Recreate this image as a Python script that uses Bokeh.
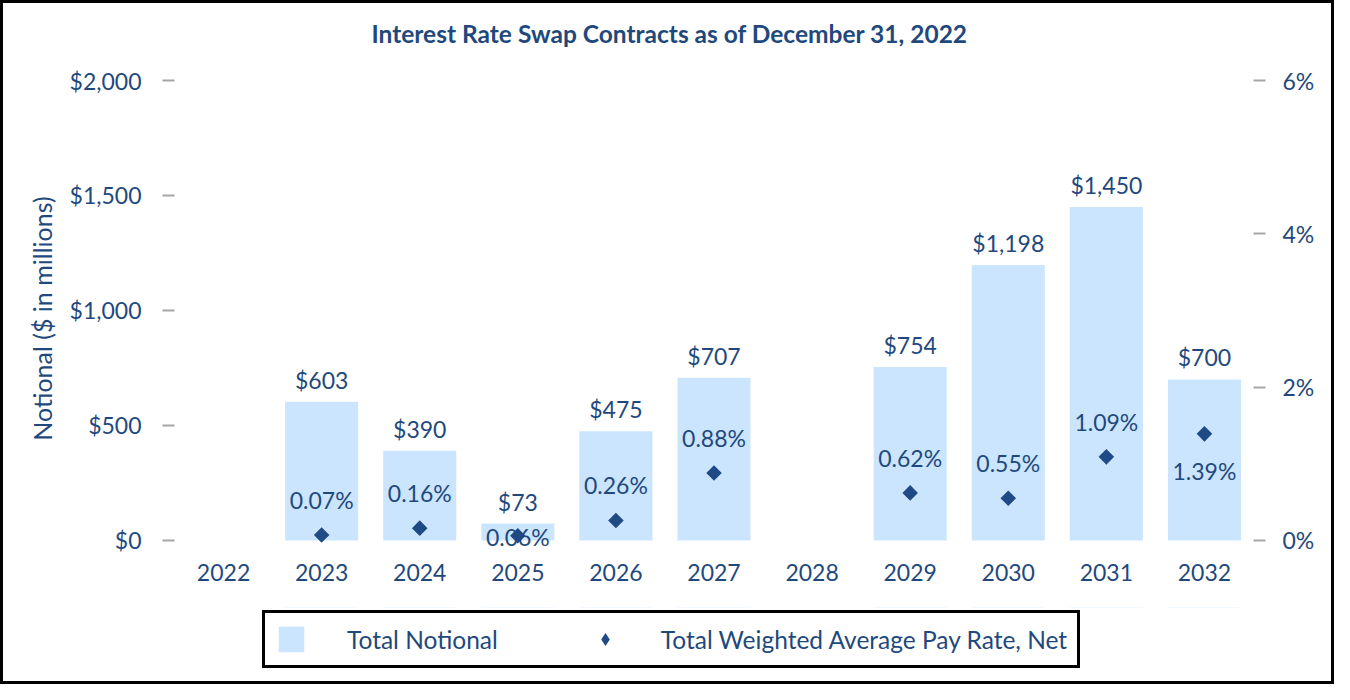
import math
from bokeh.plotting import figure
from bokeh.layouts import column
from bokeh.models import (ColumnDataSource, FactorRange, Range1d, LinearAxis, FixedTicker,
                          NumeralTickFormatter, PrintfTickFormatter, Legend, LegendItem)
from bokeh.embed import file_html
from bokeh.resources import INLINE
from bokeh.core.properties import value

# ---------------- data ----------------
title_text = "Interest Rate Swap Contracts as of December 31, 2022"
years = ["2022", "2023", "2024", "2025", "2026", "2027", "2028", "2029", "2030", "2031", "2032"]
notional = [None, 603, 390, 73, 475, 707, None, 754, 1198, 1450, 700]          # $ millions
pay_rate = [None, 0.07, 0.16, 0.06, 0.26, 0.88, None, 0.62, 0.55, 1.09, 1.39]   # percent
left_ticks = [0, 500, 1000, 1500, 2000]
right_ticks = [0, 2, 4, 6]
y_label = "Notional ($ in millions)"
series_names = ["Total Notional", "Total Weighted Average Pay Rate, Net"]

# ---------------- style ----------------
TEXT = "#1F497D"
BAR = "#CCE5FF"
MARK = "#1F4A86"
TICK = "#A6A6A6"
FONT = "Lato"
NUM_SIZE = "23px"
# where each rate label sits relative to its marker (default: above)
rate_label_side = {"2025": "center", "2032": "below"}
side_offset = {"above": -35, "center": 1, "below": 37}
Y_MAX, R_MAX = 2000, 6
PAD_FRAC = 0.035          # a little room below zero so labels near 0 are not clipped

bar_x = [y for y, v in zip(years, notional) if v is not None]
bar_top = [v for v in notional if v is not None]
bar_src = ColumnDataSource(dict(x=bar_x, top=bar_top,
                                label=["${:,}".format(v) for v in bar_top]))

rate_x = [y for y, v in zip(years, pay_rate) if v is not None]
rate_y = [v for v in pay_rate if v is not None]
rate_src = ColumnDataSource(dict(
    x=rate_x, y=rate_y,
    label=["{:.2f}%".format(v) for v in rate_y],
    yoff=[side_offset[rate_label_side.get(x, "above")] for x in rate_x]))

x_range = FactorRange(*years)

# ---- title strip ----
tt = figure(width=1328, height=60, output_backend="svg", toolbar_location=None,
            x_range=x_range, y_range=Range1d(0, 1), title=title_text,
            x_axis_location=None, y_axis_location=None, min_border=0)
tt.outline_line_color = None
tt.grid.visible = False
tt.background_fill_color = "white"
tt.border_fill_color = "white"
tt.title.text_font = FONT
tt.title.text_font_style = "bold"
tt.title.text_font_size = "24.5px"
tt.title.text_color = TEXT
tt.title.align = "left"
tt.title.offset = 197
tt.title.standoff = 31

# ---- main chart ----
p = figure(x_range=x_range, y_range=Range1d(-PAD_FRAC * Y_MAX, Y_MAX), title=None,
           width=1328, height=544, output_backend="svg", toolbar_location=None,
           min_border_left=171, min_border_right=78, min_border_top=17, min_border_bottom=51)
p.extra_y_ranges = {"rate": Range1d(-PAD_FRAC * R_MAX, R_MAX)}
p.outline_line_color = None
p.xgrid.visible = False
p.ygrid.visible = False
p.background_fill_color = "white"
p.border_fill_color = "white"

bars = p.vbar(x="x", top="top", width=0.745, source=bar_src, fill_color=BAR, line_color=None)
p.text(x="x", y="top", text="label", source=bar_src, text_align="center",
       text_baseline="middle", y_offset=-22, text_font=value(FONT),
       text_font_size=NUM_SIZE, text_color=TEXT)

marks = p.scatter(x="x", y="y", source=rate_src, y_range_name="rate", marker="square",
                  angle=math.pi / 4, size=11, fill_color=MARK, line_color=None)
p.text(x="x", y="y", text="label", source=rate_src, y_range_name="rate",
       text_align="center", text_baseline="middle", y_offset="yoff",
       text_font=value(FONT), text_font_size=NUM_SIZE, text_color=TEXT)

def style_axis(ax):
    ax.axis_line_color = None
    ax.minor_tick_line_color = None
    ax.major_tick_line_color = TICK
    ax.major_tick_line_width = 2
    ax.major_tick_in = 0
    ax.major_tick_out = 12
    ax.major_label_text_font = FONT
    ax.major_label_text_font_size = NUM_SIZE
    ax.major_label_text_color = TEXT

yl = p.yaxis[0]
style_axis(yl)
yl.ticker = FixedTicker(ticks=left_ticks)
yl.formatter = NumeralTickFormatter(format="$0,0")
yl.major_label_standoff = 21
yl.axis_label = y_label
yl.axis_label_text_font = FONT
yl.axis_label_text_font_style = "normal"
yl.axis_label_text_font_size = "25px"
yl.axis_label_text_color = TEXT
yl.axis_label_standoff = 10

yr = LinearAxis(y_range_name="rate", ticker=FixedTicker(ticks=right_ticks),
                formatter=PrintfTickFormatter(format="%d%%"))
style_axis(yr)
yr.major_label_standoff = 17
p.add_layout(yr, "right")

xa = p.xaxis[0]
style_axis(xa)
xa.major_tick_line_color = None
xa.major_tick_out = 0
xa.major_label_standoff = 7

# ---- legend strip: same sources and styles, its ranges show no marks ----
lg = figure(width=1328, height=74, output_backend="svg", toolbar_location=None,
            x_range=x_range, y_range=Range1d(-2, -1),
            x_axis_location=None, y_axis_location=None, min_border=0)
lg.outline_line_color = None
lg.grid.visible = False
lg.background_fill_color = "white"
lg.border_fill_color = "white"
lg_bar = lg.vbar(x="x", top="top", width=0.745, source=bar_src, fill_color=BAR, line_color=None)
lg_mark = lg.scatter(x="x", y="y", source=rate_src, marker="diamond",
                     size=15, fill_color=MARK, line_color=None)
legend = Legend(items=[LegendItem(label=series_names[0], renderers=[lg_bar]),
                       LegendItem(label=series_names[1], renderers=[lg_mark])],
                orientation="horizontal", location=(88, 13), padding=10,
                glyph_width=32, glyph_height=32, label_standoff=40, spacing=91,
                label_text_font=FONT, label_text_font_size="24.5px", label_text_color=TEXT,
                border_line_color="black", border_line_width=3, border_line_alpha=1,
                background_fill_color="white", background_fill_alpha=1)
lg.add_layout(legend, "center")

inner = column(tt, p, lg, spacing=0)
inner.margin = (3, 3, 3, 3)
inner.styles = {"background-color": "white"}
page = column(inner)
page.styles = {"background-color": "black"}

open("out.html", "w").write(file_html(page, INLINE))
